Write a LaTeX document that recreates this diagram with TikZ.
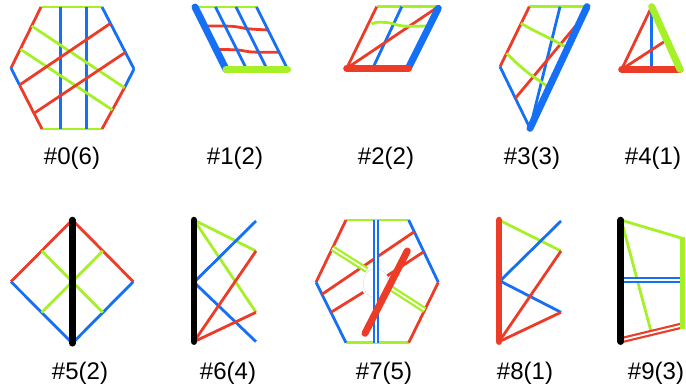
\documentclass[tikz,border=0pt]{standalone}
\usepackage{fontspec}
\setmainfont{Liberation Sans}
\definecolor{cr}{RGB}{236,60,40}
\definecolor{cb}{RGB}{22,112,246}
\definecolor{cg}{RGB}{166,240,40}
\begin{document}
\begin{tikzpicture}[x=1pt,y=-1pt,
  ln/.style={line width=2.8pt},
  tk/.style={line width=7pt,line cap=round},
  dbl/.style={line width=2.2pt,double=white,double distance=1.8pt},
  lab/.style={anchor=base,font=\fontsize{24}{28}\selectfont,inner sep=0pt}]
\useasboundingbox (0,0) rectangle (686,390);
% ---------- #0
\draw[ln,cg] (41,7) -- (102,7);
\draw[ln,cg] (42,129) -- (102,129);
\draw[ln,cr] (41,7) -- (11,68);
\draw[ln,cb] (11,68) -- (19.5,85);
\draw[ln,cr] (19.5,85) -- (42,129);
\draw[ln,cb] (102,7) -- (134,69);
\draw[ln,cb] (134,69) -- (124.5,87.7);
\draw[ln,cr] (124.5,87.7) -- (102,129);
\draw[ln,cb] (60.3,7) -- (60.3,129);
\draw[ln,cb] (86.3,7) -- (86.3,129);
\draw[ln,cg] (31.7,26) -- (124.5,87.7);
\draw[ln,cg] (20.5,49.3) -- (112.5,110);
\draw[ln,cr] (19.5,85) -- (110.6,23.3);
\draw[ln,cr] (34,113.3) -- (125.5,52.3);
\node[lab] (l0) at (72,165) {\#0(6)};
% ---------- #1
\draw[ln,cg] (195,7) -- (256.5,7);
\draw[ln,cr] plot[smooth] coordinates {(204.5,26) (232,26.3) (248,28.8) (268.5,30)};
\draw[ln,cr] plot[smooth] coordinates {(216,49.3) (238,50) (252,52) (279.5,52.3)};
\draw[ln,cb] (215.5,7) -- (246.5,69);
\draw[ln,cb] (236,7) -- (267,69);
\draw[ln,cb] (256.5,7) -- (287.5,69);
\draw[tk,cb] (195,7) -- (226,69.3);
\draw[tk,cg] (226,69.3) -- (287.5,69.3);
\node[lab] (l1) at (235,165) {\#1(2)};
% ---------- #2
\draw[ln,cg] (376.7,6.7) -- (438.3,6.7);
\draw[ln,cr] (376.7,6.7) -- (346.7,68.3);
\draw[ln,cb] (401.7,6.7) -- (372.7,68.3);
\draw[ln,cr] (346.7,68.3) -- (438.3,6.7);
\draw[ln,cg] plot[smooth] coordinates {(371.5,24) (377,22.3) (389,22.8) (403,26) (429.5,26)};
\draw[tk,cb] (408.3,68.3) -- (438.3,8.3);
\draw[tk,cr] (346.7,68.3) -- (408.3,68.3);
\node[lab] (l2) at (386,165) {\#2(2)};
% ---------- #3
\draw[ln,cg] (529.3,6.7) -- (587,6.7);
\draw[ln,cr] (529.3,6.7) -- (500,66.7);
\draw[ln,cb] (500,66.7) -- (530,128.3);
\draw[ln,cb] (560,6.7) -- (530,128.3);
\draw[ln,cr] (515.3,98.3) -- (582,18.4);
\draw[ln,cg] plot[smooth] coordinates {(521,23.3) (532,29.5) (552,39.5) (570,49.3)};
\draw[ln,cg] plot[smooth] coordinates {(506.5,53.3) (518.3,64.5) (528.3,73) (538.3,80) (551.7,89.3)};
\draw[tk,cb] (530,128.3) -- (587,6.7);
\node[lab] (l3) at (532,165) {\#3(3)};
% ---------- #4
\draw[ln,cr] (651.7,6.7) -- (621.7,69.3);
\draw[ln,cb] (651.7,6.7) -- (651.7,69.3);
\draw[ln,cr] (621.7,69.3) -- (666.8,40);
\draw[tk,cr] (621.7,69.3) -- (680,69.3);
\draw[tk,cg] (651.7,6.7) -- (680,69.3);
\node[lab] (l4) at (653,165) {\#4(1)};
% ---------- #5
\draw[ln,cr] (11,281.7) -- (72.3,220) -- (133.3,281.7);
\draw[ln,cb] (11,281.7) -- (72.3,343.3) -- (133.3,281.7);
\draw[ln,cg] (41.7,250.9) -- (102.8,312.5);
\draw[ln,cg] (102.8,250.9) -- (41.7,312.5);
\draw[line width=6.5pt,line cap=round] (72.3,220) -- (72.3,343.3);
\node[lab] (l5) at (80,379) {\#5(2)};
% ---------- #6
\draw[ln,cg] (194,220) -- (256,251);
\draw[ln,cg] (194,220) -- (256,312.3);
\draw[ln,cb] (256,221) -- (194,282.3) -- (256,341.7);
\draw[ln,cr] (194,341.7) -- (256,251);
\draw[ln,cr] (194,341.7) -- (256,312.3);
\draw[line width=6.5pt,line cap=round] (194,220) -- (194,341.7);
\node[lab] (l6) at (228,379) {\#6(4)};
% ---------- #7
\draw[ln,cg] (346,220) -- (408.7,220);
\draw[ln,cg] (346,342.7) -- (408.7,342.7);
\draw[ln,cr] (346,220) -- (316,282.3);
\draw[ln,cb] (316,282.3) -- (346,342.7);
\draw[ln,cb] (408.7,220) -- (438.3,282.3);
\draw[ln,cr] (438.3,282.3) -- (408.7,342.7);
\draw[ln,cr] (322,294.3) -- (414.3,231.7);
\draw[ln,cr] (331,312.3) -- (363.3,292.3);
\draw[ln,cr] (387.3,275.7) -- (423.8,251.7);
\draw[line width=2.3pt,cg,double=white,double distance=1.6pt] (332.4,248.3) -- (366.7,270);
\draw[line width=2.3pt,cg,double=white,double distance=1.6pt] (390,287.7) -- (424.7,310);
\draw[fill=white,draw=black!12,line width=0.5pt] (375.8,283.3) ellipse [x radius=12.5, y radius=15];
\draw[dbl,cb] (375.7,220) -- (375.7,342.7);
\draw[tk,cr] (365,333.3) -- (407.3,251);
\node[lab] (l7) at (384,379) {\#7(5)};
% ---------- #8
\draw[ln,cg] (499,220) -- (561,251);
\draw[ln,cb] (561,221) -- (500,281) -- (561,312.3);
\draw[ln,cr] (499,341.7) -- (561,251);
\draw[ln,cr] (499,341.7) -- (561,312.3);
\draw[line width=6.5pt,line cap=round,cr] (499,220) -- (499,341.7);
\node[lab] (l8) at (525,379) {\#8(1)};
% ---------- #9
\draw[ln,cg] (620.7,220) -- (682.3,238.3);
\draw[ln,cg] (621.5,221) -- (651.7,334);
\draw[dbl,cb] (620.7,280) -- (682.3,280);
\draw[dbl,cr] (620.7,340.3) -- (682.3,325.5);
\draw[line width=4.5pt,cg] (682.3,237) -- (682.3,329);
\draw[line width=6.5pt,line cap=round] (620.7,220) -- (620.7,341.7);
\node[lab] (l9) at (656,379) {\#9(3)};
\end{tikzpicture}
\end{document}
